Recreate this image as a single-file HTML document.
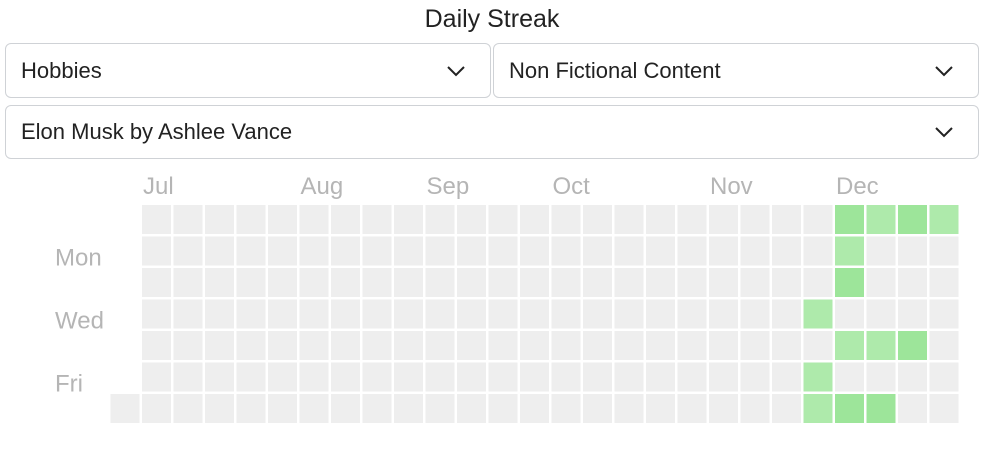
<!DOCTYPE html>
<html><head><meta charset="utf-8"><style>
body{margin:0;width:984px;height:454px;background:#fff;font-family:"Liberation Sans",sans-serif;position:relative;overflow:hidden}
.title{position:absolute;left:0;width:984px;top:5px;text-align:center;font-size:25px;color:#222}
.dd{position:absolute;box-sizing:border-box;border:1px solid #cfd2d6;border-radius:6px;font-size:22px;color:#222;padding-left:15px;display:flex;align-items:center}
.dd svg{position:absolute;right:24px;top:50%;margin-top:-6px}
</style></head><body>
<div class="title">Daily Streak</div>
<div class="dd" style="left:5px;top:43px;width:486px;height:55px">Hobbies<svg width="20" height="12"><path d="M2 2 L10 10 L18 2" stroke="#222" stroke-width="2" fill="none"/></svg></div>
<div class="dd" style="left:493px;top:43px;width:486px;height:55px">Non Fictional Content<svg width="20" height="12"><path d="M2 2 L10 10 L18 2" stroke="#222" stroke-width="2" fill="none"/></svg></div>
<div class="dd" style="left:5px;top:105px;width:974px;height:54px">Elon Musk by Ashlee Vance<svg width="20" height="12"><path d="M2 2 L10 10 L18 2" stroke="#222" stroke-width="2" fill="none"/></svg></div>
<svg id="chart" width="984" height="454" style="position:absolute;left:0;top:0"></svg>
<script>
const monthLabels=["Jul","Aug","Sep","Oct","Nov","Dec"];
const monthCols=[0,5,9,13,18,22];
const dayLabels=["Mon","Wed","Fri"];
const dayRows=[1,3,5];
const numCols=26;
const activeCols=[22,23,24,25,22,22,21,22,23,24,21,21,22,23];
const activeRows=[0,0,0,0,1,2,3,4,4,4,5,6,6,6];
const activeLevels=[2,1,2,1,1,2,1,1,1,2,1,1,2,2];
const svg=document.getElementById('chart');
const NS='http://www.w3.org/2000/svg';
const x0=142,y0=205,pitch=31.5,size=29;
const cx=c=>x0+c*pitch, cy=r=>y0+r*pitch;
const colors=["#eeeeee","#aeeaab","#9de59a"];
const levels={};
activeCols.forEach((c,i)=>{levels[c+','+activeRows[i]]=activeLevels[i];});
function cell(c,r){
  const el=document.createElementNS(NS,'rect');
  el.setAttribute('x',cx(c));el.setAttribute('y',cy(r));
  el.setAttribute('width',size);el.setAttribute('height',size);
  el.setAttribute('fill',colors[levels[c+','+r]||0]);
  
  
  svg.appendChild(el);
}
cell(-1,6);
for(let c=0;c<numCols;c++)for(let r=0;r<7;r++)cell(c,r);
monthLabels.forEach((m,i)=>{
  const t=document.createElementNS(NS,'text');
  t.setAttribute('x',cx(monthCols[i])+1);t.setAttribute('y',194);
  t.setAttribute('font-size','24');t.setAttribute('fill','#b5b5b5');
  t.setAttribute('font-family','Liberation Sans, sans-serif');
  t.textContent=m;
  
  
  svg.appendChild(t);
});
dayLabels.forEach((d,i)=>{
  const t=document.createElementNS(NS,'text');
  t.setAttribute('x',55);t.setAttribute('y',cy(dayRows[i])+29);
  t.setAttribute('font-size','24');t.setAttribute('fill','#b5b5b5');
  t.setAttribute('font-family','Liberation Sans, sans-serif');
  t.textContent=d;
  
  
  svg.appendChild(t);
});
</script>
</body></html>
